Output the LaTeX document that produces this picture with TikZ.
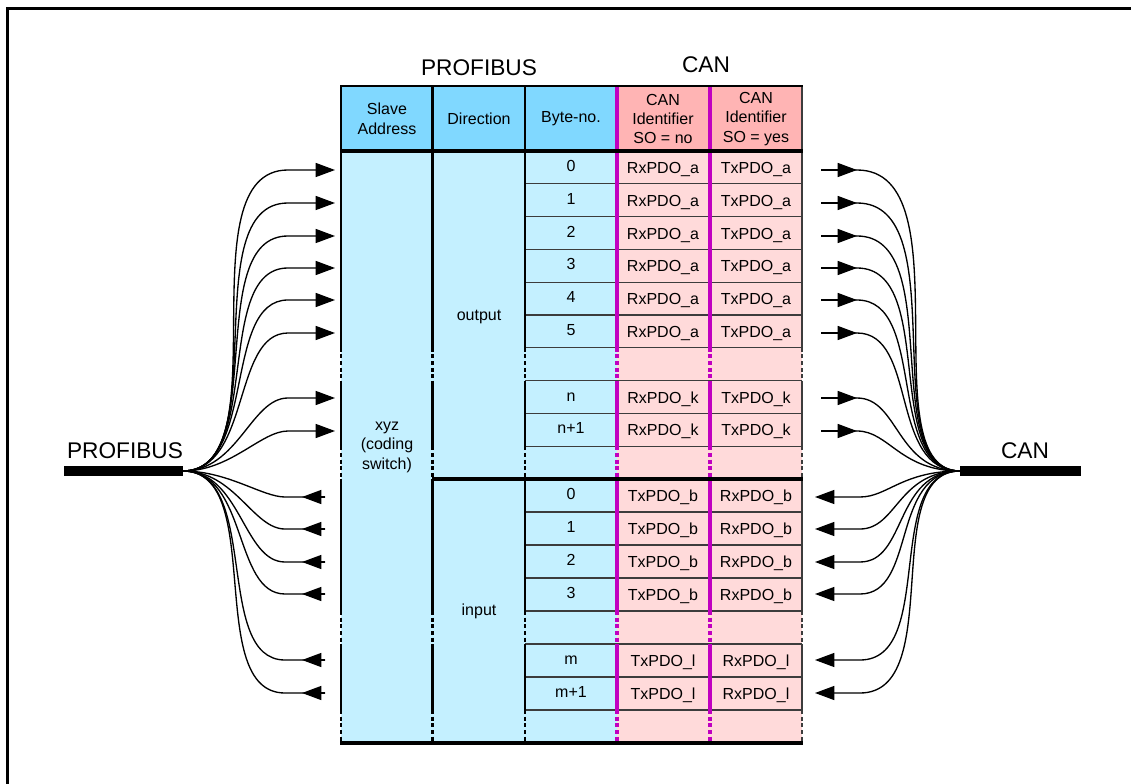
\documentclass[tikz,border=0pt]{standalone}
\usepackage{fontspec}
\setmainfont{Liberation Sans}
\usetikzlibrary{arrows.meta}

\definecolor{headblue}{RGB}{128,216,255}
\definecolor{cellblue}{RGB}{196,240,255}
\definecolor{headpink}{RGB}{255,180,180}
\definecolor{cellpink}{RGB}{255,218,218}
\definecolor{idline}{RGB}{192,0,192}
\definecolor{rowline}{RGB}{60,60,60}

\tikzset{
  cell/.style={inner sep=0pt, font=\fontsize{12}{14.6}\selectfont, text height=8.6pt, text depth=2.4pt},
  headcell/.style={inner sep=0pt, align=center, font=\fontsize{12}{14.6}\selectfont},
  toptitle/.style={inner sep=0pt, font=\fontsize{17}{20}\selectfont},
  blankrow/.style={dash pattern=on 3pt off 2pt},
  wire/.style={line width=1pt},
  headtip/.style={-{Triangle[length=14.5pt,width=10.5pt]}},
  bus/.style={line width=7.5pt},
}

\begin{document}
\begin{tikzpicture}[x=0.75pt, y=-0.75pt]
    \useasboundingbox (0,0) rectangle (1131,784);

    % Outer frame (top and left edge)
    \draw[line width=2.3pt] (7.5,800) -- (7.5,8.5) -- (1150,8.5);

    % Header and body fills
    \fill[headblue] (341,86) rectangle (617,151);
    \fill[headpink] (617,86) rectangle (802,151);
    \fill[cellblue] (341,151) rectangle (617,743);
    \fill[cellpink] (617,151) rectangle (802,743);

    % Row lines of byte and identifier columns
    \draw[rowline, line width=1pt]
        (525,183.8) -- (802,183.8) (525,216.6) -- (802,216.6) (525,249.4) -- (802,249.4)
        (525,282.2) -- (802,282.2) (525,315) -- (802,315) (525,347.8) -- (802,347.8)
        (525,380.6) -- (802,380.6) (525,413.4) -- (802,413.4) (525,446.2) -- (802,446.2)
        (525,512) -- (802,512) (525,545) -- (802,545) (525,578) -- (802,578)
        (525,611) -- (802,611) (525,644) -- (802,644) (525,677) -- (802,677)
        (525,710) -- (802,710);

    % Column borders: solid in filled rows, dashed in the blank ones
    \draw[line width=2.2pt] (341,86) -- (341,347.8) (341,380.6) -- (341,446.2) (341,479) -- (341,611) (341,644) -- (341,710);
    \draw[line width=2.2pt, blankrow] (341,347.8) -- (341,380.6) (341,446.2) -- (341,479) (341,611) -- (341,644) (341,710) -- (341,743);
    \draw[line width=1.9pt] (432.7,86) -- (432.7,347.8) (432.7,380.6) -- (432.7,446.2) (432.7,479) -- (432.7,611) (432.7,644) -- (432.7,710);
    \draw[line width=1.9pt, blankrow] (432.7,347.8) -- (432.7,380.6) (432.7,446.2) -- (432.7,479) (432.7,611) -- (432.7,644) (432.7,710) -- (432.7,743);
    \draw[line width=1.2pt] (525,86) -- (525,347.8) (525,380.6) -- (525,446.2) (525,479) -- (525,611) (525,644) -- (525,710);
    \draw[line width=1.2pt, blankrow] (525,347.8) -- (525,380.6) (525,446.2) -- (525,479) (525,611) -- (525,644) (525,710) -- (525,743);
    \draw[idline, line width=2.3pt] (617,86) -- (617,347.8) (617,380.6) -- (617,446.2) (617,479) -- (617,611) (617,644) -- (617,710);
    \draw[idline, line width=2.3pt, blankrow] (617,347.8) -- (617,380.6) (617,446.2) -- (617,479) (617,611) -- (617,644) (617,710) -- (617,743);
    \draw[idline, line width=2.3pt] (710,86) -- (710,347.8) (710,380.6) -- (710,446.2) (710,479) -- (710,611) (710,644) -- (710,710);
    \draw[idline, line width=2.3pt, blankrow] (710,347.8) -- (710,380.6) (710,446.2) -- (710,479) (710,611) -- (710,644) (710,710) -- (710,743);
    \draw[rowline, line width=1.2pt] (802,86) -- (802,347.8) (802,380.6) -- (802,446.2) (802,479) -- (802,611) (802,644) -- (802,710);
    \draw[rowline, line width=1.2pt, blankrow] (802,347.8) -- (802,380.6) (802,446.2) -- (802,479) (802,611) -- (802,644) (802,710) -- (802,743);

    % Header top and the heavy rules
    \draw[line width=1.5pt] (340,86) -- (803,86);
    \draw[line width=3pt] (340,151) -- (803,151);
    \draw[line width=3pt] (432,479) -- (803,479);
    \draw[line width=3pt] (340,743) -- (803,743);

    % Titles and header row
    \node[toptitle] (pbtitle) at (479,68) {PROFIBUS};
    \node[toptitle] (cantitle) at (706,65) {CAN};
    \node[headcell] (hslave) at (387,119) {Slave\\Address};
    \node[headcell] (hdir) at (479,119) {Direction};
    \node[headcell] (hbyte) at (571,119) {Byte-no.};
    \node[headcell] (hsono) at (663,119) {CAN\\Identifier\\SO = no};
    \node[headcell] (hsoyes) at (756,119) {CAN\\Identifier\\SO = yes};

    % Slave address and direction
    \node[headcell] (xyz) at (387,447) {xyz\\(coding\\switch)};
    \node[cell] (dout) at (479,316) {output};
    \node[cell] (din) at (479,611) {input};

    % Output bytes
    \node[cell] (ob0) at (571,167.4) {0};   \node[cell] (or0) at (663,169.4) {RxPDO\_a}; \node[cell] (ot0) at (756,169.4) {TxPDO\_a};
    \node[cell] (ob1) at (571,200.2) {1};   \node[cell] (or1) at (663,202.2) {RxPDO\_a}; \node[cell] (ot1) at (756,202.2) {TxPDO\_a};
    \node[cell] (ob2) at (571,233) {2};     \node[cell] (or2) at (663,235) {RxPDO\_a};   \node[cell] (ot2) at (756,235) {TxPDO\_a};
    \node[cell] (ob3) at (571,265.8) {3};   \node[cell] (or3) at (663,267.8) {RxPDO\_a}; \node[cell] (ot3) at (756,267.8) {TxPDO\_a};
    \node[cell] (ob4) at (571,298.6) {4};   \node[cell] (or4) at (663,300.6) {RxPDO\_a}; \node[cell] (ot4) at (756,300.6) {TxPDO\_a};
    \node[cell] (ob5) at (571,331.4) {5};   \node[cell] (or5) at (663,333.4) {RxPDO\_a}; \node[cell] (ot5) at (756,333.4) {TxPDO\_a};
    \node[cell] (obn) at (571,397) {n};     \node[cell] (orn) at (663,399) {RxPDO\_k};   \node[cell] (otn) at (756,399) {TxPDO\_k};
    \node[cell] (obn1) at (571,429.8) {n+1}; \node[cell] (orn1) at (663,431.8) {RxPDO\_k}; \node[cell] (otn1) at (756,431.8) {TxPDO\_k};

    % Input bytes
    \node[cell] (ib0) at (571,495.5) {0};   \node[cell] (it0) at (663,497.5) {TxPDO\_b}; \node[cell] (ir0) at (756,497.5) {RxPDO\_b};
    \node[cell] (ib1) at (571,528.5) {1};   \node[cell] (it1) at (663,530.5) {TxPDO\_b}; \node[cell] (ir1) at (756,530.5) {RxPDO\_b};
    \node[cell] (ib2) at (571,561.5) {2};   \node[cell] (it2) at (663,563.5) {TxPDO\_b}; \node[cell] (ir2) at (756,563.5) {RxPDO\_b};
    \node[cell] (ib3) at (571,594.5) {3};   \node[cell] (it3) at (663,596.5) {TxPDO\_b}; \node[cell] (ir3) at (756,596.5) {RxPDO\_b};
    \node[cell] (ibm) at (571,660.5) {m};   \node[cell] (itm) at (663,662.5) {TxPDO\_l};  \node[cell] (irm) at (756,662.5) {RxPDO\_l};
    \node[cell] (ibm1) at (571,693.5) {m+1}; \node[cell] (itm1) at (663,695.5) {TxPDO\_l}; \node[cell] (irm1) at (756,695.5) {RxPDO\_l};

    % Bus lines
    \coordinate (pbend) at (183,471);
    \coordinate (canend) at (960,471);
    \draw[bus] (64,471) -- (pbend);
    \draw[bus] (canend) -- (1081,471);
    \node[toptitle] (pblabel) at (125,451) {PROFIBUS};
    \node[toptitle] (canlabel) at (1025,451) {CAN};

    % Arrow ends beside the table
    \coordinate (lo1) at (335,170); \coordinate (lo2) at (335,203); \coordinate (lo3) at (335,236); \coordinate (lo4) at (335,268);
    \coordinate (lo5) at (335,300); \coordinate (lo6) at (335,333); \coordinate (lo7) at (335,398); \coordinate (lo8) at (335,431);
    \coordinate (li1) at (325,497); \coordinate (li2) at (325,529); \coordinate (li3) at (325,562);
    \coordinate (li4) at (325,594); \coordinate (li5) at (325,660); \coordinate (li6) at (325,693);
    \coordinate (ro1) at (821,170); \coordinate (ro2) at (821,203); \coordinate (ro3) at (821,236); \coordinate (ro4) at (821,268);
    \coordinate (ro5) at (821,300); \coordinate (ro6) at (821,333); \coordinate (ro7) at (821,398); \coordinate (ro8) at (821,431);
    \coordinate (ri1) at (815,497); \coordinate (ri2) at (815,529); \coordinate (ri3) at (815,562);
    \coordinate (ri4) at (815,594); \coordinate (ri5) at (815,660); \coordinate (ri6) at (815,693);

    % PROFIBUS to output bytes
    \draw[wire, headtip] (pbend) .. controls +(100,0) and +(-105,0) .. ([xshift=-35.25pt]lo1) -- (lo1);
    \draw[wire, headtip] (pbend) .. controls +(94,0) and +(-95,0) .. ([xshift=-35.25pt]lo2) -- (lo2);
    \draw[wire, headtip] (pbend) .. controls +(87,0) and +(-86,0) .. ([xshift=-35.25pt]lo3) -- (lo3);
    \draw[wire, headtip] (pbend) .. controls +(81,0) and +(-76,0) .. ([xshift=-35.25pt]lo4) -- (lo4);
    \draw[wire, headtip] (pbend) .. controls +(74,0) and +(-66,0) .. ([xshift=-35.25pt]lo5) -- (lo5);
    \draw[wire, headtip] (pbend) .. controls +(68,0) and +(-56,0) .. ([xshift=-35.25pt]lo6) -- (lo6);
    \draw[wire, headtip] (pbend) .. controls +(55,0) and +(-37,0) .. ([xshift=-35.25pt]lo7) -- (lo7);
    \draw[wire, headtip] (pbend) .. controls +(48,0) and +(-27,0) .. ([xshift=-35.25pt]lo8) -- (lo8);

    % Input bytes to PROFIBUS
    \draw[wire] (li1) -- ([xshift=-30pt]li1) .. controls +(-22.5,0) and +(45,0) .. (pbend);
    \draw[wire] (li2) -- ([xshift=-30pt]li2) .. controls +(-32,0) and +(52,0) .. (pbend);
    \draw[wire] (li3) -- ([xshift=-30pt]li3) .. controls +(-42,0) and +(58,0) .. (pbend);
    \draw[wire] (li4) -- ([xshift=-30pt]li4) .. controls +(-52,0) and +(65,0) .. (pbend);
    \draw[wire] (li5) -- ([xshift=-30pt]li5) .. controls +(-72,0) and +(78,0) .. (pbend);
    \draw[wire] (li6) -- ([xshift=-30pt]li6) .. controls +(-82,0) and +(84,0) .. (pbend);
    \draw[wire, headtip] (li1) -- ([xshift=-17.25pt]li1);
    \draw[wire, headtip] (li2) -- ([xshift=-17.25pt]li2);
    \draw[wire, headtip] (li3) -- ([xshift=-17.25pt]li3);
    \draw[wire, headtip] (li4) -- ([xshift=-17.25pt]li4);
    \draw[wire, headtip] (li5) -- ([xshift=-17.25pt]li5);
    \draw[wire, headtip] (li6) -- ([xshift=-17.25pt]li6);

    % Output bytes to CAN
    \draw[wire] (ro1) -- ([xshift=27pt]ro1) .. controls +(110,0) and +(-91,0) .. (canend);
    \draw[wire] (ro2) -- ([xshift=27pt]ro2) .. controls +(100,0) and +(-87,0) .. (canend);
    \draw[wire] (ro3) -- ([xshift=27pt]ro3) .. controls +(90,0) and +(-83,0) .. (canend);
    \draw[wire] (ro4) -- ([xshift=27pt]ro4) .. controls +(81,0) and +(-79,0) .. (canend);
    \draw[wire] (ro5) -- ([xshift=27pt]ro5) .. controls +(71,0) and +(-75,0) .. (canend);
    \draw[wire] (ro6) -- ([xshift=27pt]ro6) .. controls +(61,0) and +(-71,0) .. (canend);
    \draw[wire] (ro7) -- ([xshift=27pt]ro7) .. controls +(42,0) and +(-64,0) .. (canend);
    \draw[wire] (ro8) -- ([xshift=27pt]ro8) .. controls +(32,0) and +(-60,0) .. (canend);
    \draw[wire, headtip] (ro1) -- ([xshift=27pt]ro1);
    \draw[wire, headtip] (ro2) -- ([xshift=27pt]ro2);
    \draw[wire, headtip] (ro3) -- ([xshift=27pt]ro3);
    \draw[wire, headtip] (ro4) -- ([xshift=27pt]ro4);
    \draw[wire, headtip] (ro5) -- ([xshift=27pt]ro5);
    \draw[wire, headtip] (ro6) -- ([xshift=27pt]ro6);
    \draw[wire, headtip] (ro7) -- ([xshift=27pt]ro7);
    \draw[wire, headtip] (ro8) -- ([xshift=27pt]ro8);

    % CAN to input bytes
    \draw[wire, headtip] (canend) .. controls +(-58,0) and +(27.5,0) .. ([xshift=33.75pt]ri1) -- (ri1);
    \draw[wire, headtip] (canend) .. controls +(-62,0) and +(37,0) .. ([xshift=33.75pt]ri2) -- (ri2);
    \draw[wire, headtip] (canend) .. controls +(-66,0) and +(47,0) .. ([xshift=33.75pt]ri3) -- (ri3);
    \draw[wire, headtip] (canend) .. controls +(-70,0) and +(57,0) .. ([xshift=33.75pt]ri4) -- (ri4);
    \draw[wire, headtip] (canend) .. controls +(-78,0) and +(77,0) .. ([xshift=33.75pt]ri5) -- (ri5);
    \draw[wire, headtip] (canend) .. controls +(-82,0) and +(87,0) .. ([xshift=33.75pt]ri6) -- (ri6);
\end{tikzpicture}
\end{document}
